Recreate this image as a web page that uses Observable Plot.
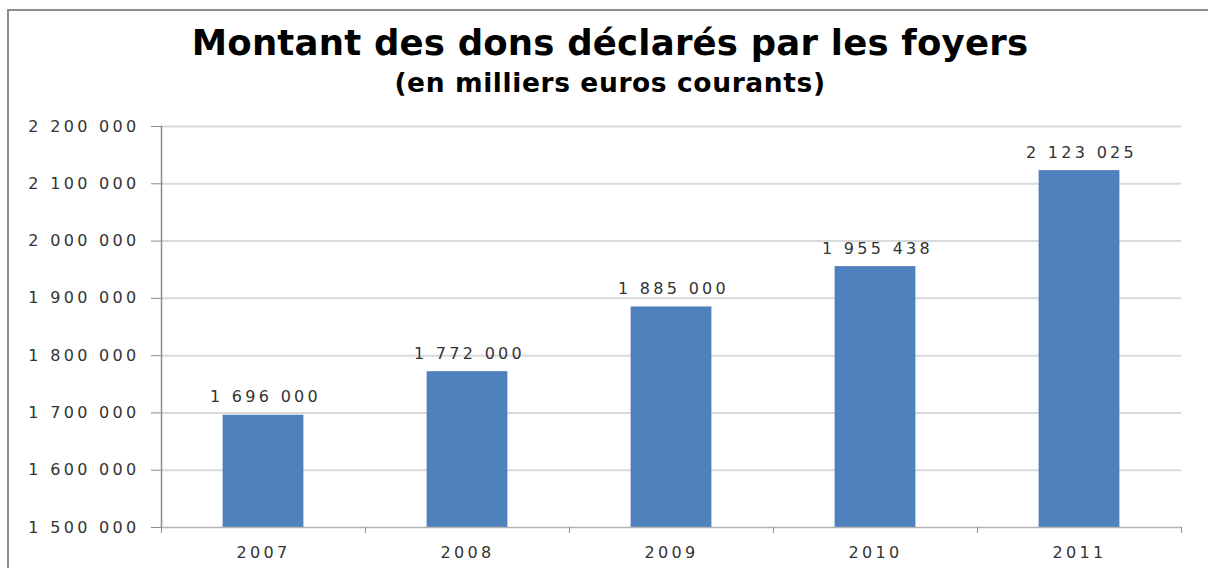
<!DOCTYPE html>
<html>
<head>
<meta charset="utf-8">
<script src="https://cdn.jsdelivr.net/npm/d3@7"></script>
<script src="https://cdn.jsdelivr.net/npm/@observablehq/plot@0.6"></script>
<style>
  html, body { margin: 0; padding: 0; background: #fff; overflow: hidden; }
  #wrap { position: relative; width: 1208px; height: 568px; overflow: hidden; }
  #border { position: absolute; left: 7px; top: 9px; width: 1220px; height: 620px;
            border-top: 2px solid #8c8c8c; border-left: 2px solid #8c8c8c; box-sizing: border-box; }
  #chart { position: absolute; left: 0; top: 0; }
  .t { position: absolute; left: 0; width: 1220px; text-align: center; color: #000;
       font-family: "DejaVu Sans", sans-serif; font-weight: bold; white-space: nowrap; line-height: normal; }
  #title { top: 22px; font-size: 35.5px; letter-spacing: 0.2px; }
  #subtitle { top: 67px; font-size: 26.5px; letter-spacing: 0.6px; }
  #chart svg text { letter-spacing: 3.3px; }
</style>
</head>
<body>
<div id="wrap">
  <div id="border"></div>
  <div id="chart"></div>
  <div id="title" class="t">Montant des dons déclarés par les foyers</div>
  <div id="subtitle" class="t">(en milliers euros courants)</div>
</div>
<script>
const years = ["2007", "2008", "2009", "2010", "2011"];
const values = [1696000, 1772000, 1885000, 1955438, 2123025];
const yTicks = [1500000, 1600000, 1700000, 1800000, 1900000, 2000000, 2100000, 2200000];
const yMin = 1500000, yMax = 2200000;

const data = years.map((y, i) => ({year: y, value: values[i]}));
const fmt = d3.formatLocale({thousands: " ", grouping: [3], decimal: ",", currency: ["", " €"]}).format(",d");

const W = 1208, H = 568, mL = 161, mR = 27, mT = 126, mB = 41;
const band = (W - mL - mR) / years.length;
const barInset = band * 0.302;

const plot = Plot.plot({
  width: W, height: H,
  marginLeft: mL, marginRight: mR, marginTop: mT, marginBottom: mB,
  style: {fontFamily: "'DejaVu Sans', sans-serif", fontSize: "16px", color: "#404040", background: "transparent"},
  x: {type: "band", domain: years, padding: 0, label: null},
  y: {domain: [yMin, yMax], label: null},
  marks: [
    Plot.ruleY(yTicks.slice(1), {stroke: "#d9d9d9", strokeWidth: 2}),
    Plot.rectY(data, {x: "year", y1: () => yMin, y2: "value", fill: "#4f81bd", insetLeft: barInset, insetRight: barInset}),
    Plot.frame({anchor: "left", stroke: "#8c8c8c", strokeWidth: 1.5}),
    Plot.frame({anchor: "bottom", stroke: "#b4b4b4", strokeWidth: 1.5}),
    Plot.ruleX(years, {x: d => d, dx: -band / 2, y1: yMin, y2: yMin, insetBottom: -6, stroke: "#8c8c8c"}),
    Plot.ruleX([years[years.length - 1]], {x: d => d, dx: band / 2, y1: yMin, y2: yMin, insetBottom: -6, stroke: "#8c8c8c"}),
    Plot.axisY({ticks: yTicks, tickFormat: fmt, tickSize: 10, tickPadding: 12, stroke: "#8c8c8c", fontSize: 16, fill: "#333"}),
    Plot.axisX({tickSize: 0, tickPadding: 19, fontSize: 16, fill: "#333"}),
    Plot.text(data, {x: "year", y: "value", text: d => fmt(d.value), dy: -18, dx: 2, fontSize: 16, fill: "#333"})
  ]
});
document.getElementById("chart").appendChild(plot);
</script>
</body>
</html>
